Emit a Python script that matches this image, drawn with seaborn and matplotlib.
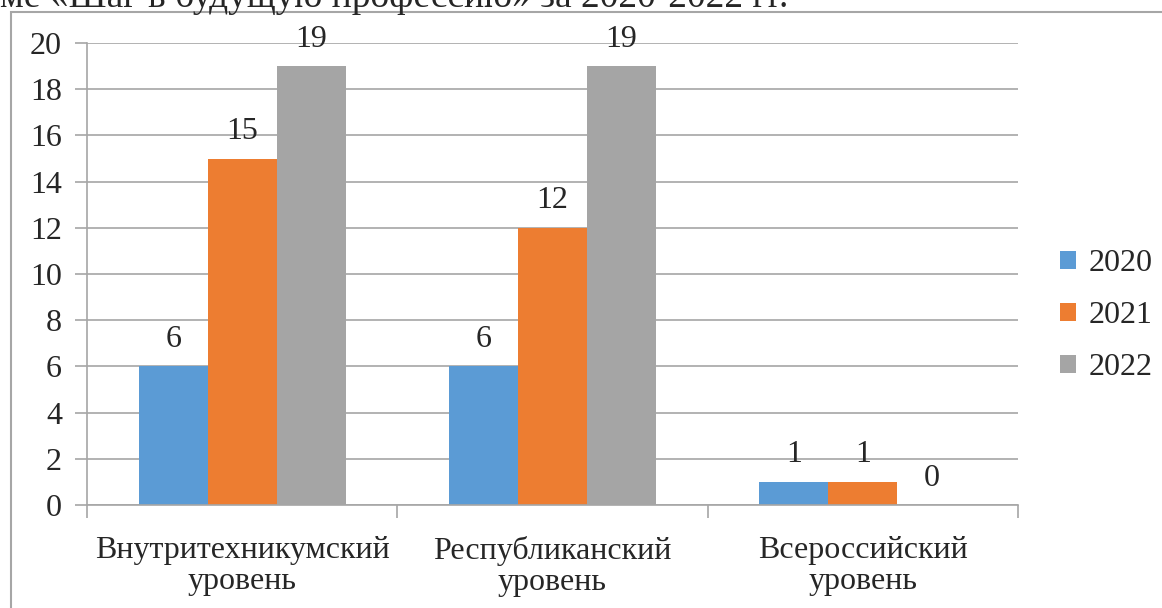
import pandas as pd
import matplotlib.pyplot as plt
import matplotlib.patches as mpatches
import seaborn as sns

# Данные диаграммы
categories = ["Внутритехникумский\nуровень", "Республиканский\nуровень", "Всероссийский\nуровень"]
years = ["2020", "2021", "2022"]
values_2020 = [6, 6, 1]
values_2021 = [15, 12, 1]
values_2022 = [19, 19, 0]
colors = ["#5B9BD5", "#ED7D31", "#A5A5A5"]

rows = []
for year, vals in zip(years, [values_2020, values_2021, values_2022]):
    for cat, v in zip(categories, vals):
        rows.append({"Уровень": cat, "Год": year, "Количество": v})
df = pd.DataFrame(rows)

sns.set_style("white")
plt.rcParams["font.family"] = ["Liberation Serif", "DejaVu Serif"]
fs = 23

fig = plt.figure(figsize=(11.62, 6.08), dpi=100)
ax = fig.add_axes([87 / 1162, 103 / 608, 931 / 1162, 462 / 608])

sns.barplot(data=df, x="Уровень", y="Количество", hue="Год", palette=colors,
            width=0.667, saturation=1, linewidth=0, ax=ax, errorbar=None)

for cont in ax.containers:
    ax.bar_label(cont, padding=9, fontsize=fs)

ax.set_xlim(-0.5, 2.5)
ax.set_ylim(0, 20)
ax.set_yticks(range(0, 21, 2))
ax.grid(axis="y", color="#a6a6a6", linewidth=1.2)
ax.set_axisbelow(True)
for s in ["top", "right"]:
    ax.spines[s].set_visible(False)
for s in ["left", "bottom"]:
    ax.spines[s].set_color("#a6a6a6")
    ax.spines[s].set_linewidth(1.2)

ax.tick_params(axis="y", which="major", length=9, width=1.2, color="#a6a6a6",
               labelsize=fs, pad=9, left=True)
ax.tick_params(axis="x", which="major", length=0, labelsize=fs, pad=22)
ax.set_xticks([-0.5, 0.5, 1.5, 2.5], minor=True)
ax.tick_params(axis="x", which="minor", length=9, width=1.2, color="#a6a6a6", bottom=True)
for lbl in ax.get_xticklabels():
    lbl.set_linespacing(1.1)
ax.set_xlabel("")
ax.set_ylabel("")

ax.legend(loc="center left", bbox_to_anchor=(1.031, 0.41), frameon=False,
          fontsize=fs, handlelength=0.5, handleheight=0.5, handletextpad=0.4,
          labelspacing=0.72, borderaxespad=0)

# рамка области диаграммы и обрезанная строка текста над ней
fig.patches.append(mpatches.Rectangle((11 / 1162, -0.1), 1.2, 1.1 - 12 / 608,
                                      transform=fig.transFigure, fill=False,
                                      edgecolor="#a6a6a6", linewidth=1.5))
fig.text(0.0, 1 - 7 / 608, "ме «Шаг в будущую профессию» за 2020-2022 гг.",
         fontsize=27, ha="left", va="baseline")

fig.savefig("out.png", dpi=100)
